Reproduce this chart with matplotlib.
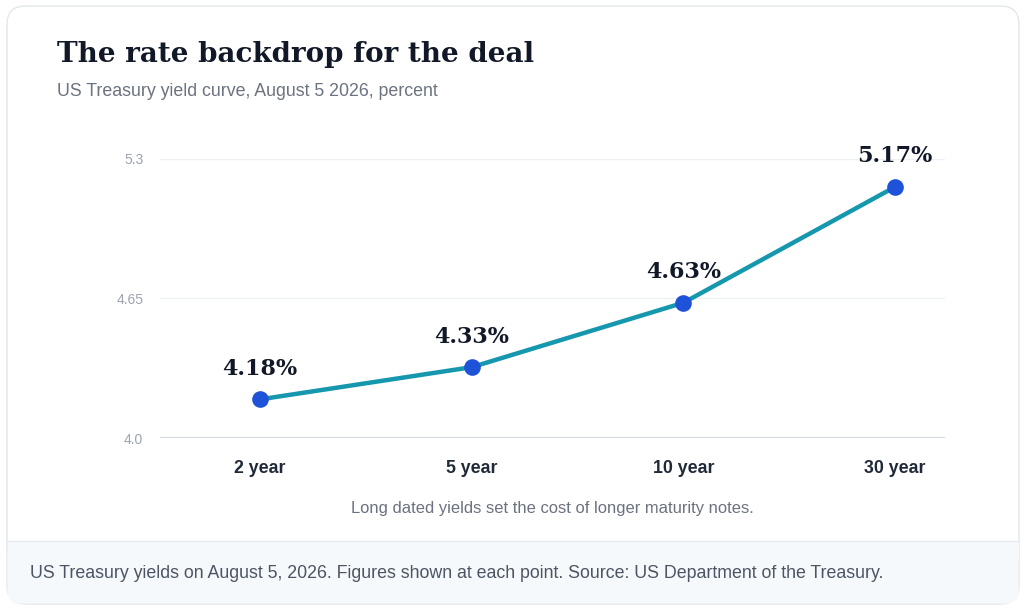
import matplotlib
matplotlib.use("Agg")
import matplotlib.pyplot as plt
from matplotlib.patches import FancyBboxPatch, Rectangle
from matplotlib.lines import Line2D

maturities = ["2 year", "5 year", "10 year", "30 year"]
yields = [4.18, 4.33, 4.63, 5.17]
y_ticks = [4.0, 4.65, 5.3]
y_tick_labels = ["4.0", "4.65", "5.3"]

title = "The rate backdrop for the deal"
subtitle = "US Treasury yield curve, August 5 2026, percent"
note = "Long dated yields set the cost of longer maturity notes."
footer = "US Treasury yields on August 5, 2026. Figures shown at each point. Source: US Department of the Treasury."

W, H = 1024, 612
fig = plt.figure(figsize=(W / 100, H / 100), dpi=100)
fig.patch.set_facecolor("white")

def fx(px):
    return px / W

def fy(py):
    return 1 - py / H

# card
card = FancyBboxPatch((fx(7), fy(604)), fx(1012), (598) / H,
                      boxstyle="round,pad=0,rounding_size=0.018",
                      transform=fig.transFigure, facecolor="white",
                      edgecolor="#e3e7ec", linewidth=1.0, zorder=0,
                      mutation_aspect=W / H)
fig.patches.append(card)
footer_bg = FancyBboxPatch((fx(7.5), fy(603.5)), fx(1011), (62) / H,
                           boxstyle="round,pad=0,rounding_size=0.012",
                           transform=fig.transFigure, facecolor="#f6f9fb",
                           edgecolor="none", zorder=0.5, mutation_aspect=W / H)
fig.patches.append(footer_bg)
fig.patches.append(Rectangle((fx(7.5), fy(560)), fx(1011), 19 / H,
                             transform=fig.transFigure, facecolor="#f6f9fb",
                             edgecolor="none", zorder=0.6))
fig.lines.append(Line2D([fx(7), fx(1019)], [fy(541), fy(541)],
                        transform=fig.transFigure, color="#e6eaee", lw=1.0, zorder=1))

fig.text(fx(57), fy(55), title, family="DejaVu Serif", fontweight="bold",
         fontsize=20, color="#111827", va="center", ha="left")
fig.text(fx(57), fy(92), subtitle, family="Liberation Sans", fontsize=12.8,
         color="#6b7280", va="center", ha="left")
fig.text(fx(552), fy(508), note, family="Liberation Sans", fontsize=11.9,
         color="#6b7280", va="center", ha="center")
fig.text(fx(30), fy(573), footer, family="Liberation Sans", fontsize=12.8,
         color="#4b5563", va="center", ha="left")

ax = fig.add_axes([fx(160), fy(438), fx(945) - fx(160), (438 - 159) / H])
ax.set_zorder(5)
ax.set_facecolor("none")
x = list(range(len(maturities)))
step = (895 - 260) / 3
ax.set_xlim(-(260 - 160) / step, 3 + (945 - 895) / step)
ax.set_ylim(4.0, 5.3)

for t in y_ticks[1:]:
    ax.axhline(t, color="#eef0f3", lw=1.0, zorder=1)
ax.axhline(y_ticks[0], color="#d3d8df", lw=2.2, zorder=1)

ax.plot(x, yields, color="#1597ae", lw=3.2, zorder=3, solid_capstyle="round")
ax.plot(x, yields, "o", color="#1d52d9", markersize=12, markeredgewidth=0, zorder=4)

for xi, v in zip(x, yields):
    ax.annotate(f"{v:.2f}%", (xi, v), xytext=(0, 22), textcoords="offset points",
                ha="center", va="center", family="DejaVu Serif", fontweight="bold",
                fontsize=16, color="#111827", zorder=5, annotation_clip=False)

for s in ax.spines.values():
    s.set_visible(False)
ax.set_yticks(y_ticks)
ax.set_yticklabels(y_tick_labels, family="Liberation Sans", fontsize=10, color="#9ca3af")
ax.set_xticks(x)
ax.set_xticklabels(maturities, family="Liberation Sans", fontsize=12.8,
                   fontweight="bold", color="#1f2937")
ax.tick_params(axis="y", length=0, pad=12)
ax.tick_params(axis="x", length=0, pad=16)

fig.savefig("out.png", dpi=100, facecolor="white")
